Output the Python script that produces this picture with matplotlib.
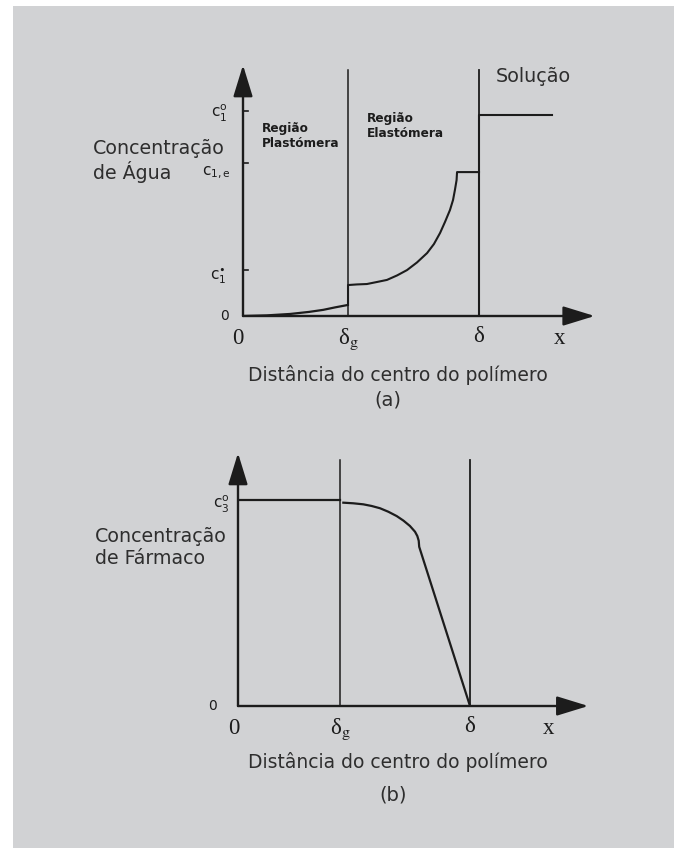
import matplotlib
matplotlib.use("Agg")
import matplotlib.pyplot as plt
from matplotlib.patches import Rectangle

W, H = 682, 848
BG = "#d1d2d4"
INK = "#1c1c1c"
TXT = "#2e2e2e"

# ---- panel (a): water concentration (x in units of delta, y in units of c1o) ----
a_delta_g = 0.445
a_delta = 1.0
a_c1o = 1.0
a_c1e = 0.746
a_c1s = 0.224
a_plast_x = [0.0, 0.10, 0.20, 0.28, 0.34, 0.39, 0.445]
a_plast_y = [0.0, 0.003, 0.010, 0.020, 0.030, 0.042, 0.054]
a_elast_x = [0.445, 0.445, 0.483, 0.525, 0.568, 0.610, 0.653, 0.695, 0.737,
             0.780, 0.809, 0.835, 0.856, 0.877, 0.890, 0.898, 0.905, 0.907, 1.0]
a_elast_y = [0.054, 0.151, 0.154, 0.156, 0.166, 0.176, 0.198, 0.224, 0.261,
             0.307, 0.351, 0.405, 0.459, 0.517, 0.566, 0.615, 0.663, 0.702, 0.702]
a_sol_x = [1.0, 1.0, 1.31]
a_sol_y = [0.0, 0.98, 0.98]

# ---- panel (b): drug concentration ----
b_delta_g = 0.44
b_delta = 1.0
b_c3o = 1.0
b_glass_x = [0.0, 0.44]
b_glass_y = [1.0, 1.0]
b_rubber_x = [0.454, 0.497, 0.540, 0.576, 0.612, 0.648, 0.684, 0.713, 0.741,
              0.763, 0.773, 0.779, 0.781, 1.0]
b_rubber_y = [0.987, 0.984, 0.979, 0.971, 0.960, 0.943, 0.922, 0.900, 0.874,
              0.846, 0.825, 0.802, 0.773, 0.0]

XMAX, YMAX = 1.55, 1.25

fig = plt.figure(figsize=(W / 100, H / 100), dpi=100)
fig.patch.set_facecolor("white")
fig.patches.append(Rectangle((13 / W, 0), (674 - 13) / W, (H - 6) / H,
                             transform=fig.transFigure, facecolor=BG,
                             edgecolor="none", zorder=-10))


def make_axes(px_left, px_zero_y, sx, sy):
    ax = fig.add_axes([px_left / W, (H - px_zero_y) / H,
                       XMAX * sx / W, YMAX * sy / H])
    ax.set_xlim(0, XMAX)
    ax.set_ylim(0, YMAX)
    ax.patch.set_visible(False)
    for s in ax.spines.values():
        s.set_visible(False)
    ax.set_xticks([])
    ax.set_yticks([])
    return ax


def draw_arrows(ax, x_tip, y_tip):
    style = "-|>,head_length=1.95,head_width=0.6"
    for xy in [(x_tip, 0), (0, y_tip)]:
        ax.annotate("", xy=xy, xytext=(0, 0), annotation_clip=False,
                    arrowprops=dict(arrowstyle=style, mutation_scale=10,
                                    lw=1.7, color=INK, shrinkA=0, shrinkB=0))


def x_labels(ax, dg, d, x_x):
    kw = dict(transform=ax.get_xaxis_transform(), ha="center", va="top",
              fontsize=16.5, color=INK, math_fontfamily="stix",
              family="Liberation Serif")
    ax.text(-0.02, -0.045, "0", **kw)
    ax.text(dg, -0.04, r"δ$_\mathrm{g}$", **kw)
    ax.text(d, -0.04, "δ", **kw)
    ax.text(x_x, -0.045, "x", **kw)


def y_label(ax, y, text, dx=-7, dy=0, size=10):
    ax.annotate(text, xy=(0, y), xytext=(dx, dy), textcoords="offset points",
                ha="right", va="center", fontsize=size, color=INK,
                math_fontfamily="dejavusans", annotation_clip=False)


def side_title(ax, x, y_top, lines, gap):
    for i, s in enumerate(lines):
        ax.text(x, y_top - i * gap, s, ha="left", va="center", fontsize=13.7,
                color=TXT, family="DejaVu Sans")


# ================= panel (a) =================
ax = make_axes(243, 316, 236, 205)
draw_arrows(ax, 1.49, 1.224)
ax.plot([a_delta_g, a_delta_g], [0, 1.2], color=INK, lw=1.1)
ax.plot([a_delta, a_delta], [0, 1.2], color=INK, lw=1.3)
ax.plot(a_plast_x, a_plast_y, color=INK, lw=1.6, solid_capstyle="butt")
ax.plot(a_elast_x, a_elast_y, color=INK, lw=1.5)
ax.plot(a_sol_x, a_sol_y, color=INK, lw=1.5)
for yt in [a_c1s, a_c1e, a_c1o]:
    ax.plot([0, 0.022], [yt, yt], color=INK, lw=1.2)
y_label(ax, 0, "0", dx=-10, size=10)
y_label(ax, a_c1o, r"$\mathrm{c}_1^\mathrm{o}$", dx=-11, dy=-2, size=11)
y_label(ax, a_c1e, r"$\mathrm{c}_{1,\mathrm{e}}$", dx=-9, dy=-7, size=11)
y_label(ax, a_c1s, r"$\mathrm{c}_1^{\bullet}$", dx=-12, dy=-4, size=11)
x_labels(ax, a_delta_g, a_delta, 1.34)
side_title(ax, -0.636, (316 - 148) / 205, ["Concentração", "de Água"], 24 / 205)
ax.text(0.08, 0.878, "Região\nPlastómera", ha="left", va="center",
        fontsize=8.7, fontweight="bold", linespacing=1.15, color=INK)
ax.text(0.525, 0.927, "Região\nElastómera", ha="left", va="center",
        fontsize=8.7, fontweight="bold", linespacing=1.15, color=INK)
ax.text(1.072, 1.166, "Solução", ha="left", va="center", fontsize=13.8,
        color=TXT, family="DejaVu Sans")
ax.text(0.657, -0.288, "Distância do centro do polímero", ha="center",
        va="center", fontsize=13.5, color=TXT, family="DejaVu Sans")
ax.text(0.614, -0.41, "(a)", ha="center", va="center", fontsize=14,
        color=TXT, family="DejaVu Sans")

# ================= panel (b) =================
ax = make_axes(238, 706, 232, 206)
draw_arrows(ax, 1.51, 1.228)
ax.plot([b_delta_g, b_delta_g], [0, 1.194], color=INK, lw=1.1)
ax.plot([b_delta, b_delta], [0, 1.194], color=INK, lw=1.3)
ax.plot(b_glass_x, b_glass_y, color=INK, lw=1.6)
ax.plot(b_rubber_x, b_rubber_y, color=INK, lw=1.6)
y_label(ax, 0, "0", dx=-15, size=10)
y_label(ax, b_c3o, r"$\mathrm{c}_3^\mathrm{o}$", dx=-6, dy=-3, size=11)
x_labels(ax, b_delta_g, b_delta, 1.34)
side_title(ax, -0.616, (706 - 536) / 206, ["Concentração", "de Fármaco"], 22 / 206)
ax.text(0.69, -0.272, "Distância do centro do polímero", ha="center",
        va="center", fontsize=13.5, color=TXT, family="DejaVu Sans")
ax.text(0.668, -0.434, "(b)", ha="center", va="center", fontsize=14,
        color=TXT, family="DejaVu Sans")

fig.savefig("out.png", dpi=100)
